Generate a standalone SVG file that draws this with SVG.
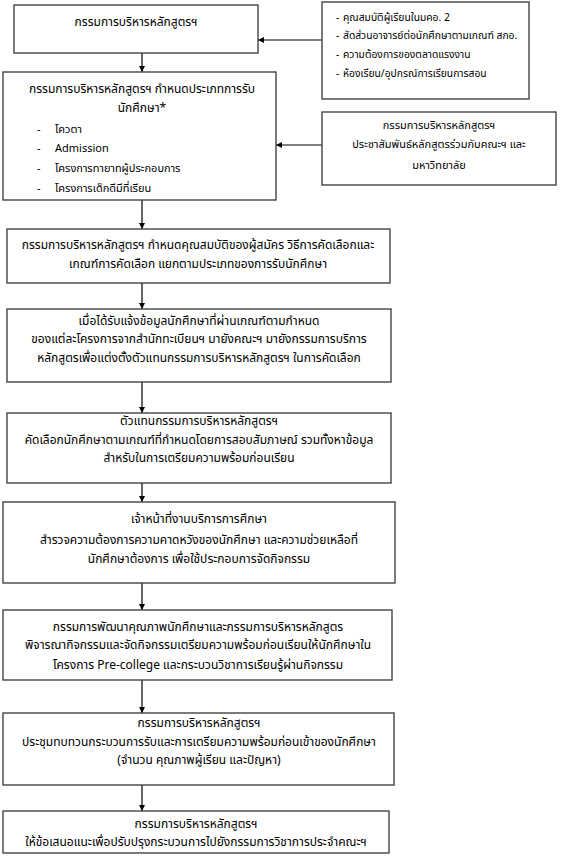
<svg xmlns="http://www.w3.org/2000/svg" width="575" height="862" viewBox="0 0 575 862">
<style>
.box{fill:#fff;stroke:#444;stroke-width:1.4}
text{font-family:"Noto Sans Thai","Noto Sans","DejaVu Sans",sans-serif;font-size:12px;fill:#000}
.c{text-anchor:middle}
.s{font-size:10.3px}
.m{font-size:11px}
.con{stroke:#000;stroke-width:1.2;fill:none}
</style>
<defs>
<marker id="ah" viewBox="0 0 10 10" refX="10" refY="5" markerWidth="6" markerHeight="6" orient="auto" markerUnits="userSpaceOnUse">
<path d="M0,0 L10,5 L0,10 Z" fill="#000"/>
</marker>
</defs>
<rect width="575" height="862" fill="#fff"/>
<g id="connectors">
<line class="con" x1="322" y1="40" x2="258" y2="40" marker-end="url(#ah)"/>
<line class="con" x1="142" y1="53" x2="142" y2="72" marker-end="url(#ah)"/>
<line class="con" x1="322" y1="145" x2="276" y2="145" marker-end="url(#ah)"/>
<line class="con" x1="142" y1="200" x2="142" y2="229" marker-end="url(#ah)"/>
<line class="con" x1="142" y1="283" x2="142" y2="309" marker-end="url(#ah)"/>
<line class="con" x1="142" y1="382" x2="142" y2="413" marker-end="url(#ah)"/>
<line class="con" x1="142" y1="483" x2="142" y2="502" marker-end="url(#ah)"/>
<line class="con" x1="142" y1="583" x2="142" y2="610" marker-end="url(#ah)"/>
<line class="con" x1="142" y1="680" x2="142" y2="713" marker-end="url(#ah)"/>
<line class="con" x1="142" y1="785" x2="142" y2="811" marker-end="url(#ah)"/>
</g>
<g id="n1">
<rect class="box" x="14" y="5" width="244" height="48"/>
<text class="c" x="136" y="26">กรรมการบริหารหลักสูตรฯ</text>
</g>
<g id="n2">
<rect class="box" x="322" y="2" width="207" height="97"/>
<text class="s" x="336" y="21">-</text><text class="s" x="343" y="21">คุณสมบัติผู้เรียนในมคอ. 2</text>
<text class="s" x="336" y="39">-</text><text class="s" x="343" y="39">สัดส่วนอาจารย์ต่อนักศึกษาตามเกณฑ์ สกอ.</text>
<text class="s" x="336" y="58">-</text><text class="s" x="343" y="58">ความต้องการของตลาดแรงงาน</text>
<text class="s" x="336" y="77">-</text><text class="s" x="343" y="77">ห้องเรียน/อุปกรณ์การเรียนการสอน</text>
</g>
<g id="n3">
<rect class="box" x="3" y="72" width="273" height="128"/>
<text class="c" x="142" y="93">กรรมการบริหารหลักสูตรฯ กำหนดประเภทการรับ</text>
<text class="c" x="142" y="112">นักศึกษา*</text>
<text class="m" x="37" y="133">-</text><text class="m" x="55" y="133">โควตา</text>
<text class="m" x="37" y="152">-</text><text class="m" x="55" y="152">Admission</text>
<text class="m" x="37" y="172">-</text><text class="m" x="55" y="172">โครงการทายาทผู้ประกอบการ</text>
<text class="m" x="37" y="192">-</text><text class="m" x="55" y="192">โครงการเด็กดีมีที่เรียน</text>
</g>
<g id="n4">
<rect class="box" x="322" y="112" width="234" height="73"/>
<text class="c m" x="439" y="129">กรรมการบริหารหลักสูตรฯ</text>
<text class="c m" x="439" y="148">ประชาสัมพันธ์หลักสูตรร่วมกับคณะฯ และ</text>
<text class="c m" x="439" y="169">มหาวิทยาลัย</text>
</g>
<g id="n5">
<rect class="box" x="7" y="229" width="383" height="54"/>
<text class="c" x="198" y="249">กรรมการบริหารหลักสูตรฯ กำหนดคุณสมบัติของผู้สมัคร วิธีการคัดเลือกและ</text>
<text class="c" x="198" y="268">เกณฑ์การคัดเลือก แยกตามประเภทของการรับนักศึกษา</text>
</g>
<g id="n6">
<rect class="box" x="7" y="309" width="384" height="73"/>
<text class="c" x="199" y="325">เมื่อได้รับแจ้งข้อมูลนักศึกษาที่ผ่านเกณฑ์ตามกำหนด</text>
<text class="c" x="199" y="343">ของแต่ละโครงการจากสำนักทะเบียนฯ มายังคณะฯ  มายังกรรมการบริการ</text>
<text class="c" x="199" y="362">หลักสูตรเพื่อแต่งตั้งตัวแทนกรรมการบริหารหลักสูตรฯ ในการคัดเลือก</text>
</g>
<g id="n7">
<rect class="box" x="7" y="413" width="384" height="70"/>
<text class="c" x="199" y="425">ตัวแทนกรรมการบริหารหลักสูตรฯ</text>
<text class="c" x="199" y="444">คัดเลือกนักศึกษาตามเกณฑ์ที่กำหนดโดยการสอบสัมภาษณ์ รวมทั้งหาข้อมูล</text>
<text class="c" x="199" y="462">สำหรับในการเตรียมความพร้อมก่อนเรียน</text>
</g>
<g id="n8">
<rect class="box" x="3" y="502" width="392" height="81"/>
<text class="c" x="199" y="523">เจ้าหน้าที่งานบริการการศึกษา</text>
<text class="c" x="199" y="544">สำรวจความต้องการความคาดหวังของนักศึกษา และความช่วยเหลือที่</text>
<text class="c" x="199" y="563">นักศึกษาต้องการ เพื่อใช้ประกอบการจัดกิจกรรม</text>
</g>
<g id="n9">
<rect class="box" x="3" y="610" width="389" height="70"/>
<text class="c" x="198" y="631">กรรมการพัฒนาคุณภาพนักศึกษาและกรรมการบริหารหลักสูตร</text>
<text class="c" x="198" y="649">พิจารณากิจกรรมและจัดกิจกรรมเตรียมความพร้อมก่อนเรียนให้นักศึกษาใน</text>
<text class="c" x="198" y="669">โครงการ Pre-college และกระบวนวิชาการเรียนรู้ผ่านกิจกรรม</text>
</g>
<g id="n10">
<rect class="box" x="3" y="713" width="391" height="72"/>
<text class="c" x="199" y="727">กรรมการบริหารหลักสูตรฯ</text>
<text class="c" x="199" y="746">ประชุมทบทวนกระบวนการรับและการเตรียมความพร้อมก่อนเข้าของนักศึกษา</text>
<text class="c" x="199" y="764">(จำนวน คุณภาพผู้เรียน และปัญหา)</text>
</g>
<g id="n11">
<rect class="box" x="3" y="811" width="386" height="42"/>
<text class="c" x="196" y="828">กรรมการบริหารหลักสูตรฯ</text>
<text class="c" x="196" y="846">ให้ข้อเสนอแนะเพื่อปรับปรุงกระบวนการไปยังกรรมการวิชาการประจำคณะฯ</text>
</g>
</svg>
